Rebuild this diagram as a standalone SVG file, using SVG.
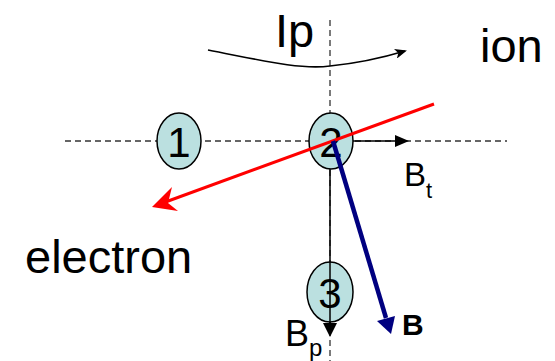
<svg xmlns="http://www.w3.org/2000/svg" width="555" height="361" viewBox="0 0 555 361">
<style>
.dash{stroke:#333;stroke-width:1.3;stroke-dasharray:6,4;fill:none}
.node{fill:#bbe0e0;stroke:#000;stroke-width:1.5}
.t{font-family:"Liberation Sans",Arial,sans-serif;fill:#000}
.num{font-size:42px;text-anchor:middle}
.big{font-size:47px}
.blk{stroke:#000;stroke-width:1.5}
</style>
<defs>
<marker id="ah" markerWidth="12" markerHeight="10" refX="10" refY="5" orient="auto" markerUnits="userSpaceOnUse">
<path d="M0,0 L12,5 L0,10 L3,5 Z" fill="#000"/>
</marker>
</defs>
<g id="axes">
<line class="dash" x1="65" y1="141" x2="507" y2="141"/>
<line class="dash" x1="330" y1="20" x2="330" y2="361"/>
</g>
<g id="bp-line">
<line class="blk" x1="330" y1="141" x2="330" y2="325"/>
</g>
<g id="node1">
<ellipse class="node" cx="179" cy="141" rx="22" ry="28"/>
<text class="t num" x="179" y="157">1</text>
</g>
<g id="node2">
<ellipse class="node" cx="331" cy="141" rx="22" ry="28"/>
<text class="t num" x="331" y="157">2</text>
</g>
<g id="node3">
<ellipse class="node" cx="330" cy="292" rx="23" ry="30"/>
<text class="t num" x="330" y="308">3</text>
</g>
<g id="connectors">
<line class="blk" x1="330" y1="262" x2="330" y2="325"/>
<polygon points="323,323 337,323 330,337" fill="#000"/>
<line class="blk" x1="353" y1="141" x2="396" y2="141"/>
<polygon points="395,135 395,147 409,141" fill="#000"/>
<path d="M208,50 C260,60 300,70 330,66 C360,63 385,57 405,51" fill="none" stroke="#000" stroke-width="1.6" marker-end="url(#ah)"/>
<line x1="434" y1="104" x2="160" y2="204" stroke="#f00" stroke-width="3"/>
<polygon points="152,207 172,187 168,203 178,211" fill="#f00"/>
<line x1="333" y1="141" x2="386" y2="318" stroke="#000080" stroke-width="4.5"/>
<polygon points="391,334 377,321 395,316" fill="#000080"/>
</g>
<g id="labels">
<text class="t big" x="275" y="47">Ip</text>
<text class="t big" x="480" y="62">ion</text>
<text class="t big" x="25" y="273">electron</text>
<text class="t" x="404" y="186" font-size="33">B<tspan font-size="22" dy="12">t</tspan></text>
<text class="t" x="285" y="346" font-size="36">B<tspan font-size="24" dy="10">p</tspan></text>
<text class="t" x="402" y="335" font-size="30" font-weight="bold">B</text>
</g>
</svg>
